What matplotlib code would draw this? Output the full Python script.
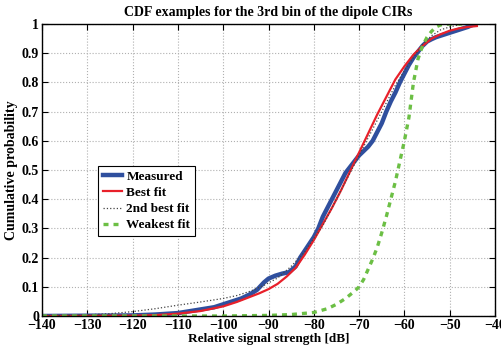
import numpy as np
import matplotlib.pyplot as plt

plt.rcParams['font.family'] = ['Liberation Serif', 'DejaVu Serif']
plt.rcParams['font.weight'] = 'bold'

# Measured CDF
meas_x = [-140, -120, -115, -110, -106, -102, -99, -96, -94, -92.5, -91, -90, -88.5, -87, -85.5,
          -84, -83, -81.5, -80, -79, -78, -77, -76, -75, -74, -73, -72, -71, -70, -69, -68, -67,
          -66, -65, -64, -63, -62, -61, -60, -59, -58, -57, -56, -55, -54, -53, -52, -51, -50,
          -48, -46, -44.5]
meas_p = [0, 0.002, 0.005, 0.010, 0.020, 0.030, 0.045, 0.060, 0.075, 0.09, 0.115, 0.128, 0.138,
          0.145, 0.150, 0.170, 0.200, 0.235, 0.27, 0.30, 0.34, 0.37, 0.40, 0.43, 0.46, 0.49, 0.51,
          0.53, 0.55, 0.565, 0.58, 0.60, 0.63, 0.66, 0.70, 0.735, 0.765, 0.80, 0.83, 0.86, 0.885,
          0.905, 0.925, 0.94, 0.948, 0.955, 0.96, 0.965, 0.97, 0.98, 0.99, 1.0]

# Best fit
best_x = [-140, -120, -115, -110, -105, -100, -97, -94, -92, -90, -88, -86, -84, -82, -80, -78,
          -76, -74, -72, -70, -68, -66, -64, -62, -60, -58, -56, -54, -52, -50, -48, -46, -44]
best_p = [0, 0.001, 0.003, 0.008, 0.017, 0.033, 0.048, 0.066, 0.078, 0.092, 0.11, 0.135, 0.165,
          0.21, 0.26, 0.315, 0.37, 0.43, 0.495, 0.56, 0.625, 0.69, 0.75, 0.81, 0.855, 0.895,
          0.925, 0.95, 0.965, 0.977, 0.985, 0.99, 0.993]

# 2nd best fit
second_x = [-140, -130, -125, -120, -115, -110, -105, -100, -97, -94, -91, -88, -85, -82, -80,
            -78, -76, -74, -72, -70, -68, -66, -64, -62, -60, -58, -56, -54, -52, -50, -48, -45]
second_p = [0.0, 0.004, 0.008, 0.015, 0.025, 0.037, 0.048, 0.06, 0.07, 0.085, 0.105, 0.13, 0.17,
            0.22, 0.265, 0.31, 0.37, 0.43, 0.49, 0.55, 0.61, 0.67, 0.73, 0.79, 0.84, 0.885, 0.93,
            0.96, 0.98, 0.99, 0.997, 1.0]

# Weakest fit
weak_x = [-140, -100, -90, -85, -80, -77, -75, -73, -71, -70, -69, -68, -67, -66, -65, -64, -63,
          -62, -61, -60, -59, -58, -57, -56, -55, -54, -53, -52, -50, -47]
weak_p = [0, 0.0, 0.002, 0.005, 0.012, 0.025, 0.04, 0.06, 0.085, 0.10, 0.125, 0.16, 0.195, 0.235,
          0.285, 0.34, 0.40, 0.46, 0.53, 0.60, 0.68, 0.80, 0.88, 0.925, 0.955, 0.975, 0.99, 0.997,
          1.0, 1.0]

fig = plt.figure(figsize=(5.02, 3.52), dpi=100)
ax = fig.add_axes([42 / 502, 36 / 352, 453 / 502, 292 / 352])

ax.plot(meas_x, meas_p, color='#2f4f9e', linewidth=3.2, label='Measured')
ax.plot(best_x, best_p, color='#e8202a', linewidth=1.6, label='Best fit')
ax.plot(second_x, second_p, color='#444444', linewidth=0.9, linestyle=':', label='2nd best fit')
ax.plot(weak_x, weak_p, color='#6cbf45', linewidth=2.4, linestyle=(0, (1.5, 1.5)), label='Weakest fit')

ax.set_xlim(-140, -40)
ax.set_ylim(0, 1)
ax.set_xticks(np.arange(-140, -39, 10))
ax.set_yticks(np.arange(0, 1.01, 0.1))
ax.set_yticklabels(['0', '0.1', '0.2', '0.3', '0.4', '0.5', '0.6', '0.7', '0.8', '0.9', '1'])
ax.grid(True, linestyle=':', color='#b0b0b0', linewidth=0.8)
ax.tick_params(direction='in', top=True, right=True, labelsize=10, length=4, pad=2)
for s in ax.spines.values():
    s.set_linewidth(1.0)

ax.set_xlabel('Relative signal strength [dB]', fontsize=9.5, fontweight='bold', labelpad=1)
ax.set_ylabel('Cumulative probability', fontsize=10, fontweight='bold', labelpad=3)
ax.set_title('CDF examples for the 3rd bin of the dipole CIRs', fontsize=10, fontweight='bold', pad=6)

leg = ax.legend(loc='upper left', bbox_to_anchor=(56 / 453, 150 / 292), fontsize=9.5,
                handlelength=1.5, handletextpad=0.3, borderpad=0.35, labelspacing=0.3,
                frameon=True, fancybox=False, framealpha=1, borderaxespad=0)
leg.get_frame().set_edgecolor('black')
leg.get_frame().set_linewidth(0.8)

fig.savefig('out.png', dpi=100)
